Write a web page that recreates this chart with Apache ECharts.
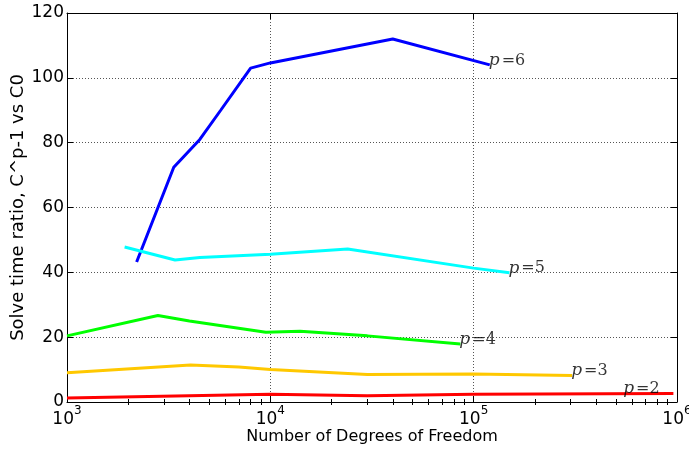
<!DOCTYPE html>
<html><head><meta charset="utf-8">
<script src="https://cdn.jsdelivr.net/npm/echarts@6/dist/echarts.min.js"></script>
<style>html,body{margin:0;padding:0;background:#fff}#c{width:689px;height:449px}</style>
</head><body><div id="c"></div>
<script>
// Data (x = degrees of freedom, y = solve time ratio)
const p6x = [2200, 3350, 4500, 5700, 8000, 10000, 40000, 120000];
const p6y = [43.2, 72.4, 81, 90, 103, 104.6, 112, 104];
const p5x = [1920, 3400, 4500, 10000, 24000, 100000, 150000];
const p5y = [47.8, 43.8, 44.6, 45.6, 47.2, 41.3, 39.9];
const p4x = [1000, 2800, 4000, 9500, 14000, 30000, 86000];
const p4y = [20.4, 26.7, 25, 21.5, 21.8, 20.4, 17.9];
const p3x = [1000, 4050, 7000, 10000, 30000, 100000, 305000];
const p3y = [9.0, 11.4, 10.8, 10.0, 8.5, 8.6, 8.2];
const p2x = [1000, 10000, 30000, 100000, 960000];
const p2y = [1.2, 2.4, 1.9, 2.4, 2.6];

const labelNames = ['6', '5', '4', '3', '2'];
const labelX = [120000, 150000, 86000, 305000, 550000];
const labelY = [104, 39.9, 17.9, 8.2, 2.7];

const colors = ['#0000ff', '#00ffff', '#00ff00', '#ffc800', '#ff0000'];
const yTicks = [0, 20, 40, 60, 80, 100, 120];

function zip(xs, ys) { return xs.map((x, i) => [x, ys[i]]); }

// minor tick positions for the log axis (2..9 per decade)
const minorTicks = [];
for (let d = 1000; d < 1000000; d *= 10) {
  for (let k = 2; k <= 9; k++) minorTicks.push(d * k);
}

const tickFont = 'DejaVu Sans';

function baseX(extra) {
  return Object.assign({
    type: 'log', logBase: 10, min: 1000, max: 1000000, gridIndex: 0,
    axisLine: { show: true, onZero: false, lineStyle: { color: '#000', width: 1 } },
    axisTick: { show: false }, axisLabel: { show: false }, splitLine: { show: false },
    minorTick: { show: false }, minorSplitLine: { show: false }
  }, extra);
}

const option = {
  animation: false,
  backgroundColor: '#fff',
  grid: { left: 67, right: 12, top: 13, bottom: 47, containLabel: false, outerBoundsMode: 'none' },
  xAxis: [
    baseX({
      position: 'bottom',
      axisTick: { show: true, inside: true, length: 6, lineStyle: { color: '#000' } },
      splitLine: { show: true, lineStyle: { color: '#555', type: [1, 2], width: 1 } },
      axisLabel: {
        show: true, margin: 3,
        formatter: function (v) {
          const e = Math.round(Math.log10(v));
          return '{b|10}{s|' + e + '}';
        },
        rich: {
          b: { fontFamily: tickFont, fontSize: 17, color: '#000', padding: [6, 0, 0, 0] },
          s: { fontFamily: tickFont, fontSize: 12, color: '#000', verticalAlign: 'top', padding: [0, 0, 8, 0] }
        }
      },
      name: 'Number of Degrees of Freedom',
      nameLocation: 'middle', nameGap: 27, nameMoveOverlap: false,
      nameTextStyle: { fontFamily: tickFont, fontSize: 16, color: '#000' }
    }),
    baseX({
      position: 'bottom', axisLine: { show: false },
      axisTick: { show: true, inside: true, length: 3, customValues: minorTicks, lineStyle: { color: '#000' } }
    }),
    baseX({
      position: 'top',
      axisTick: { show: true, inside: true, length: 6, lineStyle: { color: '#000' } }
    }),
    baseX({
      position: 'top', axisLine: { show: false },
      axisTick: { show: true, inside: true, length: 3, customValues: minorTicks, lineStyle: { color: '#000' } }
    })
  ],
  yAxis: [
    {
      type: 'value', min: 0, max: 120, interval: 20, position: 'left',
      axisLine: { show: true, lineStyle: { color: '#000', width: 1 } },
      axisTick: { show: true, inside: true, length: 6, customValues: yTicks, lineStyle: { color: '#000' } },
      axisLabel: { show: true, margin: 3, fontFamily: tickFont, fontSize: 17, color: '#000', customValues: yTicks },
      splitLine: { show: true, lineStyle: { color: '#555', type: [1, 2], width: 1 } },
      name: 'Solve time ratio, C^p-1 vs C0',
      nameLocation: 'middle', nameGap: 40, nameMoveOverlap: false,
      nameTextStyle: { fontFamily: tickFont, fontSize: 18, color: '#000' }
    },
    {
      type: 'value', min: 0, max: 120, interval: 20, position: 'right',
      axisLine: { show: true, lineStyle: { color: '#000', width: 1 } },
      axisTick: { show: true, inside: true, length: 6, lineStyle: { color: '#000' } },
      axisLabel: { show: false }, splitLine: { show: false }
    }
  ],
  series: [
    [p6x, p6y], [p5x, p5y], [p4x, p4y], [p3x, p3y], [p2x, p2y]
  ].map((d, i) => ({
    type: 'line', xAxisIndex: 0, yAxisIndex: 0,
    data: zip(d[0], d[1]), showSymbol: false, symbol: 'none',
    lineStyle: { color: colors[i], width: 3 }, z: 3
  })).concat([{
    type: 'scatter', xAxisIndex: 0, yAxisIndex: 0, symbol: 'circle', symbolSize: 0.01, z: 5,
    data: labelX.map((x, i) => ({ value: [x, labelY[i]], name: labelNames[i] })),
    label: {
      show: true, position: [0, 0], align: 'left', verticalAlign: 'bottom', offset: [-1, 4],
      formatter: function (p) { return '{i|p}{n|=' + p.name + '}'; },
      rich: {
        i: { fontFamily: 'DejaVu Serif', fontStyle: 'italic', fontSize: 17, color: '#000' },
        n: { fontFamily: 'DejaVu Serif', fontSize: 16, color: '#000', padding: [0, 0, 0, 2] }
      }
    },
    itemStyle: { color: 'rgba(0,0,0,0)' },
    silent: true
  }])
};

const chart = echarts.init(document.getElementById('c'), null, { renderer: 'canvas' });
chart.setOption(option);
</script>
</body></html>
